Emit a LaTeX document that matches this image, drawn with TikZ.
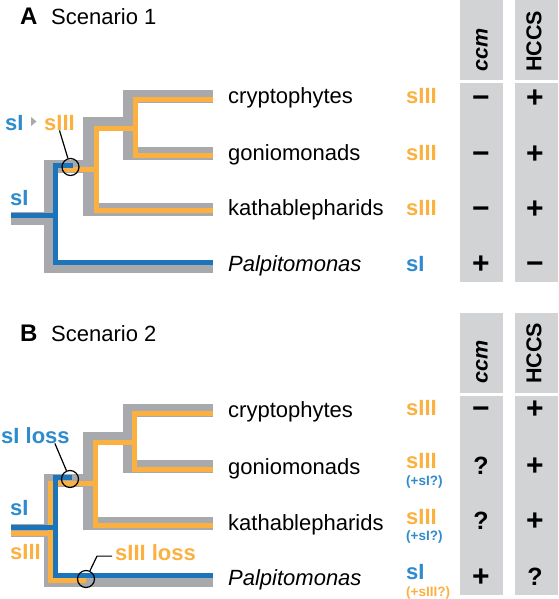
\documentclass[tikz,border=0pt]{standalone}
\usepackage{fontspec}
\setmainfont{Liberation Sans}
\usetikzlibrary{positioning}
\definecolor{treegray}{RGB}{167,169,172}
\definecolor{colgray}{RGB}{209,211,212}
\definecolor{siiiorange}{RGB}{251,176,64}
\definecolor{siblue}{RGB}{28,117,187}
\definecolor{sitext}{RGB}{46,139,204}

\begin{document}
\begin{tikzpicture}[x=1pt, y=-1pt,
  shade/.style={draw=treegray, line width=13pt, line join=miter},
  orangeline/.style={draw=siiiorange, line width=5pt, line join=miter},
  blueline/.style={draw=siblue, line width=5pt, line join=miter},
  title/.style={anchor=base west, inner sep=0pt, font=\fontsize{22}{24}\selectfont},
  taxon/.style={anchor=base west, inner sep=0pt, font=\fontsize{22}{24}\selectfont},
  gene/.style={anchor=base west, inner sep=0pt, font=\bfseries\fontsize{22}{24}\selectfont},
  note/.style={anchor=base west, inner sep=0pt, font=\bfseries\fontsize{13.5}{15}\selectfont},
  sign/.style={anchor=base, inner sep=0pt, font=\bfseries\fontsize{30}{32}\selectfont},
  query/.style={anchor=base, inner sep=0pt, font=\bfseries\fontsize{25}{27}\selectfont},
  head/.style={rotate=90, anchor=west, inner sep=0pt, font=\bfseries\fontsize{21.5}{23}\selectfont},
  event/.style={circle, draw=black, line width=1.2pt, minimum size=17pt, inner sep=0pt},
  callout/.style={draw=black, line width=1.2pt}
]
\useasboundingbox (0,0) rectangle (558,599);

% gene columns
\fill[colgray] (460,0) rectangle (503,80);
\fill[colgray] (515,0) rectangle (558,80);
\fill[colgray] (460,83) rectangle (503,282);
\fill[colgray] (515,83) rectangle (558,282);
\fill[colgray] (460,313) rectangle (503,393);
\fill[colgray] (515,313) rectangle (558,393);
\fill[colgray] (460,396) rectangle (503,595);
\fill[colgray] (515,396) rectangle (558,595);

%%%% Scenario 1
\node[title, font=\bfseries\fontsize{24}{26}\selectfont] (labA) at (20,25) {A};
\node[title] (titA) at (51,25) {Scenario 1};

\draw[shade] (11,218) -- (51,218);
\draw[shade] (213,266.5) -- (50.5,266.5) -- (50.5,166.5) -- (90,166.5);
\draw[shade] (213,209.5) -- (89.5,209.5) -- (89.5,124) -- (130,124);
\draw[shade] (213,96.5) -- (129.5,96.5) -- (129.5,153.5) -- (213,153.5);

\draw[orangeline] (213,100) -- (135,100) -- (135,155.5) -- (213,155.5);
\draw[orangeline] (135,128.5) -- (96.5,128.5) -- (96.5,210.5) -- (213,210.5);
\draw[orangeline] (63,169.5) -- (96.5,169.5);
\draw[blueline] (11,215) -- (55.5,215);
\draw[blueline] (73,165) -- (55.5,165) -- (55.5,262.5) -- (213,262.5);

\node[event] (lossA) at (70.5,167) {};
\node[gene, text=sitext] (siA) at (5,130) {sI};
\fill[treegray] (31,117) -- (36.5,121.5) -- (31,126) -- cycle;
\node[gene, text=siiiorange] (siiiA) at (44,130) {sIII};
\draw[callout] (siiiA.south) -- (lossA);
\node[gene, text=sitext] (rootA) at (10,205) {sI};

\node[taxon] (cryA) at (228,103) {cryptophytes};
\node[taxon] (gonA) at (228,160.5) {goniomonads};
\node[taxon] (katA) at (228,215.5) {kathablepharids};
\node[taxon] (palA) at (228,271) {\itshape Palpitomonas};

\node[gene, text=siiiorange] (cryAg) at (406,103) {sIII};
\node[gene, text=siiiorange] (gonAg) at (406,160.5) {sIII};
\node[gene, text=siiiorange] (katAg) at (406,215.5) {sIII};
\node[gene, text=sitext] (palAg) at (406,271) {sI};

\node[head] (ccmA) at (482,72) {\itshape ccm};
\node[head] (hccsA) at (534,72) {HCCS};
\node[sign] (cryAc) at (481,107) {−};
\node[sign] (cryAh) at (535,107) {+};
\node[sign] (gonAc) at (481,163) {−};
\node[sign] (gonAh) at (535,163) {+};
\node[sign] (katAc) at (481,218) {−};
\node[sign] (katAh) at (535,218) {+};
\node[sign] (palAc) at (481,273) {+};
\node[sign] (palAh) at (535,273) {−};

%%%% Scenario 2
\node[title, font=\bfseries\fontsize{24}{26}\selectfont] (labB) at (20,341) {B};
\node[title] (titB) at (51,341) {Scenario 2};

\draw[shade] (11,530) -- (51,530);
\draw[shade] (213,580) -- (50.5,580) -- (50.5,480) -- (90,480);
\draw[shade] (213,523.5) -- (89.5,523.5) -- (89.5,438.5) -- (130,438.5);
\draw[shade] (213,410.5) -- (129.5,410.5) -- (129.5,466.5) -- (213,466.5);

\draw[orangeline] (213,413.5) -- (134.5,413.5) -- (134.5,469) -- (213,469);
\draw[orangeline] (134.5,442.5) -- (95,442.5) -- (95,525) -- (213,525);
\draw[orangeline] (11,533) -- (50.5,533);
\draw[orangeline] (95,483.5) -- (50.5,483.5) -- (50.5,580.5) -- (86,580.5);
\draw[blueline] (11,527) -- (55,527);
\draw[blueline] (72,477.5) -- (55,477.5) -- (55,575) -- (213,575);

\node[event] (lossB) at (70,479) {};
\node[event] (gainB) at (86,579) {};
\node[gene, text=sitext] (silossB) at (1,443) {sI loss};
\draw[callout] ([xshift=-15pt]silossB.south east) -- (lossB);
\node[gene, text=siiiorange] (siiilossB) at (115,560) {sIII loss};
\draw[callout] ([xshift=-3pt,yshift=-4pt]siiilossB.west) -- ++(-15,0) -- (gainB);
\node[gene, text=sitext] (rootB) at (10,515) {sI};
\node[gene, text=siiiorange] (rootB2) at (10,559) {sIII};

\node[taxon] (cryB) at (228,417) {cryptophytes};
\node[taxon] (gonB) at (228,474) {goniomonads};
\node[taxon] (katB) at (228,530) {kathablepharids};
\node[taxon] (palB) at (228,585) {\itshape Palpitomonas};

\node[gene, text=siiiorange] (cryBg) at (406,415) {sIII};
\node[gene, text=siiiorange] (gonBg) at (406,468) {sIII};
\node[note, text=sitext] (gonBn) at (406,485) {(+sI?)};
\node[gene, text=siiiorange] (katBg) at (406,524) {sIII};
\node[note, text=sitext] (katBn) at (406,540) {(+sI?)};
\node[gene, text=sitext] (palBg) at (406,579) {sI};
\node[note, text=siiiorange] (palBn) at (406,596) {(+sIII?)};

\node[head] (ccmB) at (482,384) {\itshape ccm};
\node[head] (hccsB) at (534,384) {HCCS};
\node[sign] (cryBc) at (481,418) {−};
\node[sign] (cryBh) at (535,418) {+};
\node[query] (gonBc) at (481,474) {?};
\node[sign] (gonBh) at (535,475) {+};
\node[query] (katBc) at (481,529) {?};
\node[sign] (katBh) at (535,530) {+};
\node[sign] (palBc) at (481,586) {+};
\node[query] (palBh) at (535,585) {?};
\end{tikzpicture}
\end{document}
